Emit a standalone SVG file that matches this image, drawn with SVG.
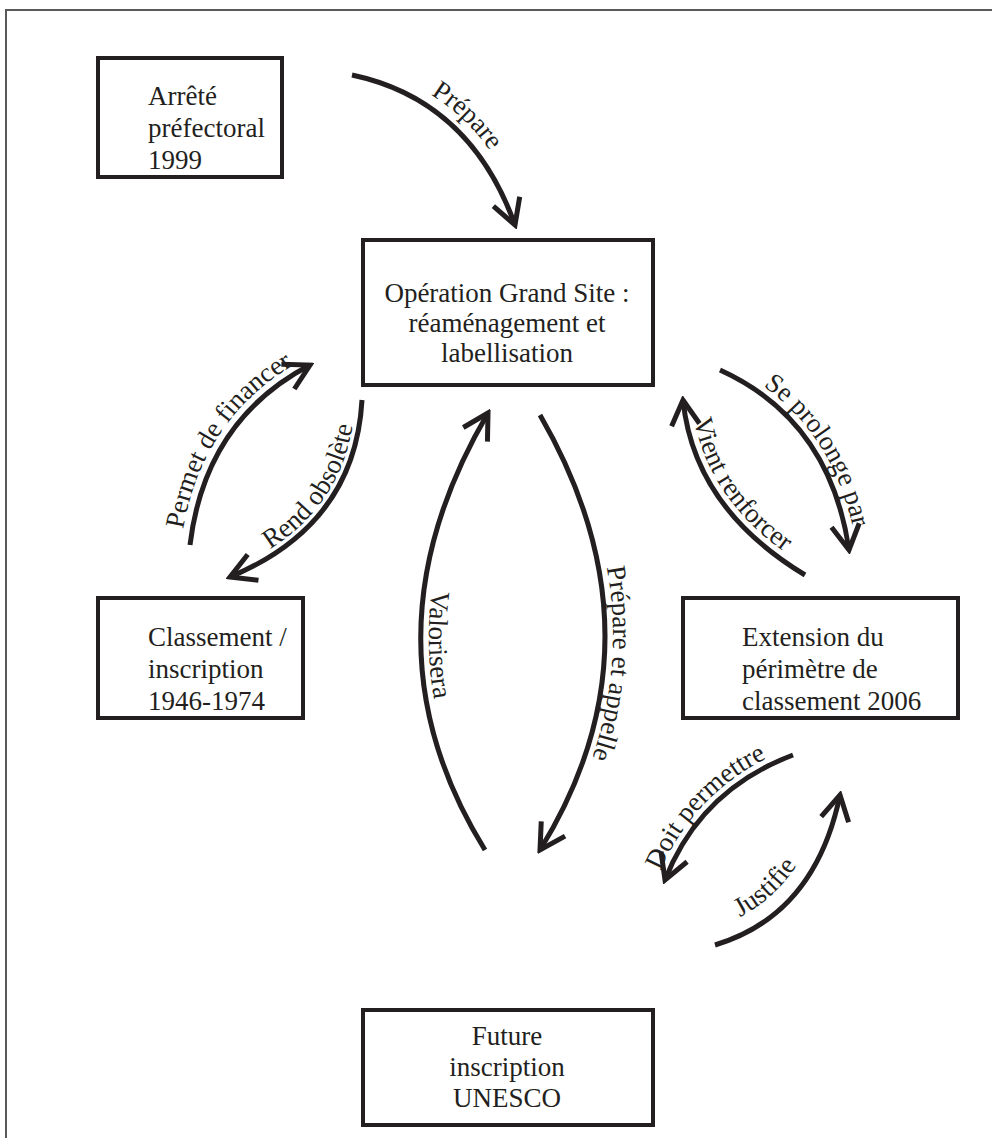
<svg xmlns="http://www.w3.org/2000/svg" width="992" height="1138" viewBox="0 0 992 1138">
<style>
.frame{fill:none;stroke:#5a5a5a;stroke-width:2}
.box{fill:#fff;stroke:#231f20;stroke-width:4}
.nt{font-family:"Liberation Serif","Times New Roman",serif;font-size:27px;fill:#231f20}
.c{text-anchor:middle}
.lbl{font-family:"Liberation Serif","Times New Roman",serif;font-size:27px;fill:#231f20}
.con{fill:none;stroke:#231f20;stroke-width:5;marker-end:url(#ah)}
</style>
<defs>
<marker id="ah" viewBox="-30 -18 34 36" refX="0" refY="0" markerWidth="34" markerHeight="36" markerUnits="userSpaceOnUse" orient="auto">
<path d="M-25,-14 L0,0 L-25,14" fill="none" stroke="#231f20" stroke-width="5" stroke-linejoin="miter"/>
</marker>
<path id="p1" d="M357,66 Q482,92 525,222"/>
<path id="p2" d="M181,544 Q197,416 306,358"/>
<path id="p3" d="M227,571 Q350,521 355,400"/>
<path id="p4" d="M723,363 Q836,415 857,549"/>
<path id="p5" d="M691,399 Q701,504 809,568"/>
<path id="p6" d="M496,415 Q363,640 493,848"/>
<path id="p7" d="M548,412 Q678,640 548,850"/>
<path id="p8" d="M658,877 Q695,785 790,748"/>
<path id="p9" d="M708,930 Q803,902 826,790"/>
</defs>
<rect width="992" height="1138" fill="#fff"/>
<path class="frame" d="M6,1138 V10 H992"/>

<g id="n-arrete">
<rect class="box" x="98" y="58" width="184" height="119"/>
<text class="nt" x="148" y="105">Arrêté</text>
<text class="nt" x="148" y="137">préfectoral</text>
<text class="nt" x="148" y="169">1999</text>
</g>
<g id="n-ogs">
<rect class="box" x="363" y="240" width="290" height="145"/>
<text class="nt c" x="507" y="302">Opération Grand Site :</text>
<text class="nt c" x="507" y="332">réaménagement et</text>
<text class="nt c" x="507" y="362">labellisation</text>
</g>
<g id="n-classement">
<rect class="box" x="98" y="598" width="205" height="120"/>
<text class="nt" x="148" y="646">Classement /</text>
<text class="nt" x="148" y="678">inscription</text>
<text class="nt" x="148" y="710">1946-1974</text>
</g>
<g id="n-extension">
<rect class="box" x="683" y="598" width="275" height="120"/>
<text class="nt" x="742" y="646">Extension du</text>
<text class="nt" x="742" y="678">périmètre de</text>
<text class="nt" x="742" y="710">classement 2006</text>
</g>
<g id="n-unesco">
<rect class="box" x="363" y="1010" width="290" height="115"/>
<text class="nt c" x="507" y="1045">Future</text>
<text class="nt c" x="507" y="1076">inscription</text>
<text class="nt c" x="507" y="1107">UNESCO</text>
</g>

<g id="connectors">
<path class="con" d="M352,75 Q470,100 515,225"/>
<path class="con" d="M190,545 Q205,420 310,365"/>
<path class="con" d="M362,400 Q355,525 230,577"/>
<path class="con" d="M720,370 Q830,420 849,550"/>
<path class="con" d="M805,575 Q694,508 683,400"/>
<path class="con" d="M485,850 Q355,640 488,413"/>
<path class="con" d="M540,415 Q670,640 540,850"/>
<path class="con" d="M793,755 Q700,790 665,880"/>
<path class="con" d="M715,945 Q815,915 840,795"/>
<text class="lbl c"><textPath href="#p1" startOffset="50%">Prépare</textPath></text>
<text class="lbl c"><textPath href="#p2" startOffset="50%">Permet de financer</textPath></text>
<text class="lbl c"><textPath href="#p3" startOffset="55%">Rend obsolète</textPath></text>
<text class="lbl c"><textPath href="#p4" startOffset="55%">Se prolonge par</textPath></text>
<text class="lbl c"><textPath href="#p5" startOffset="48%">Vient renforcer</textPath></text>
<text class="lbl c"><textPath href="#p6" startOffset="53%">Valorisera</textPath></text>
<text class="lbl c"><textPath href="#p7" startOffset="57%">Prépare et appelle</textPath></text>
<text class="lbl c"><textPath href="#p8" startOffset="45%">Doit permettre</textPath></text>
<text class="lbl c"><textPath href="#p9" startOffset="38%">Justifie</textPath></text>
</g>
</svg>
